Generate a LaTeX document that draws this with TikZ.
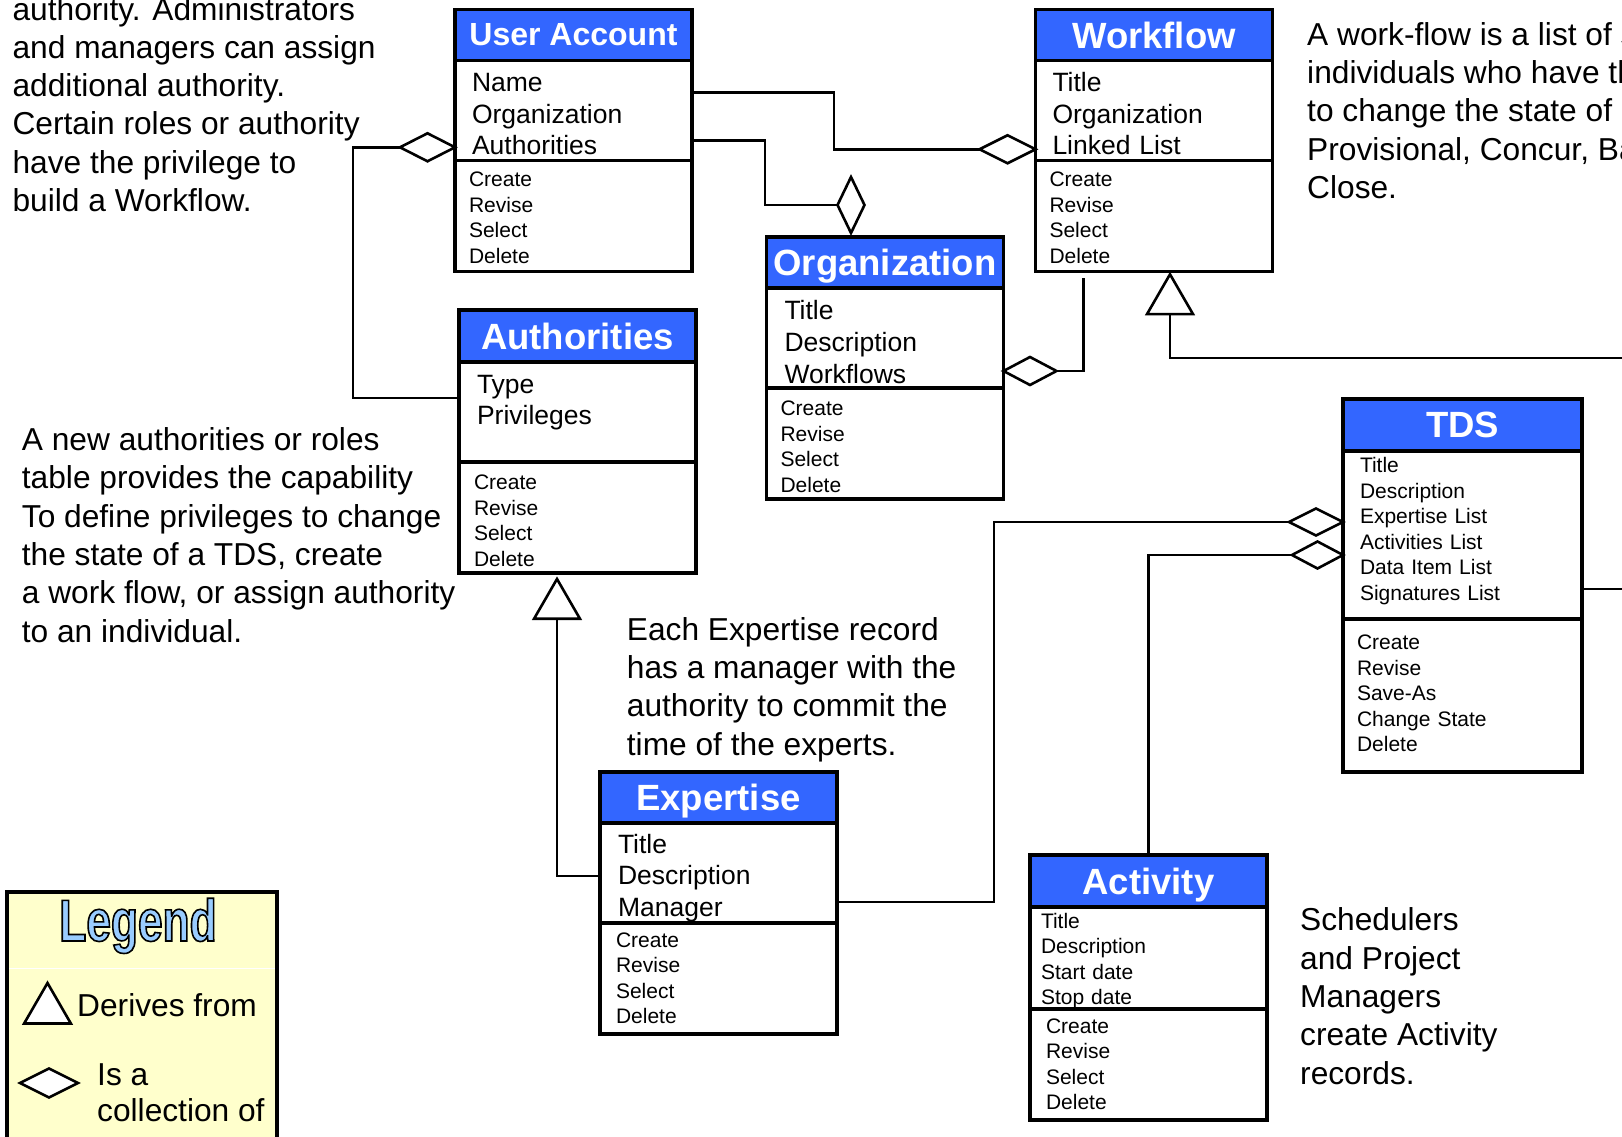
\documentclass[tikz,border=0pt]{standalone}
\usepackage{fontspec}
\setmainfont{Liberation Sans}
\newfontfamily\legendfont[FakeStretch=0.75]{Liberation Sans}
\usepackage{xcolor}
\usetikzlibrary{positioning, shapes.geometric}

\definecolor{umlblue}{HTML}{3366FF}
\definecolor{legendyellow}{HTML}{FFFFCC}
\definecolor{legendblue}{HTML}{99CCFF}

\newcommand{\clshead}{\fontsize{36.5}{40}\selectfont\bfseries}
\newcommand{\clsattr}{\fontsize{26.5}{31.7}\selectfont}
\newcommand{\clsops}{\fontsize{21}{25.5}\selectfont}
\newcommand{\notetext}{\fontsize{31.7}{38.3}\selectfont}
\newcommand{\outlined}[1]{\special{pdf:literal direct 0 0 0 RG 1.6 w 2 Tr}#1\special{pdf:literal direct 0 Tr}}

\begin{document}
\begin{tikzpicture}[
        x=1pt, y=-1pt,
        head/.style={draw, line width=3.3pt, fill=umlblue, text=white, font=\clshead, text depth=0pt, minimum width=237pt, minimum height=51pt, inner sep=0pt, outer sep=0pt},
        attrs/.style={draw, line width=3.3pt, fill=white, font=\clsattr, align=left, text width=203pt, inner xsep=17pt, inner ysep=0pt, minimum height=100pt, outer sep=0pt},
        ops/.style={attrs, font=\clsops, text width=209pt, inner xsep=14pt, minimum height=111pt},
        lift/.style={execute at begin node={\rule{0pt}{#1}}},
        sink/.style={execute at end node={\rule[-#1]{0pt}{#1}}},
        agg/.style={draw, fill=white, line width=2.6pt, diamond, minimum width=55pt, minimum height=28pt, inner sep=0pt, outer sep=0pt},
        derive/.style={draw, fill=white, line width=2.6pt, regular polygon, regular polygon sides=3, minimum size=53pt, inner sep=0pt, outer sep=0pt},
        conn/.style={draw, line width=2.6pt},
        note/.style={align=left, font=\notetext, inner sep=0pt, anchor=base west}
    ]
    \useasboundingbox (0,0) rectangle (1622,1137);

    % classes
    \node[head, anchor=north west, font=\fontsize{32}{36}\selectfont\bfseries] (ua) at (455,9.3) {User Account};
    \node[attrs, lift=26pt, below=0pt of ua] (ua-a) {Name\\Organization\\Authorities};
    \node[ops, lift=19pt, below=0pt of ua-a] (ua-o) {Create\\Revise\\Select\\Delete};

    \node[head, anchor=north west] (wf) at (1035.5,9.3) {Workflow};
    \node[attrs, lift=26pt, below=0pt of wf] (wf-a) {Title\\Organization\\Linked List};
    \node[ops, lift=19pt, below=0pt of wf-a] (wf-o) {Create\\Revise\\Select\\Delete};

    \node[head, anchor=north west] (org) at (766.5,237) {Organization};
    \node[attrs, lift=27pt, below=0pt of org, inner xsep=18pt, text width=201pt] (org-a) {Title\\Description\\Workflows};
    \node[ops, lift=21pt, below=0pt of org-a] (org-o) {Create\\Revise\\Select\\Delete};

    \node[head, anchor=north west, minimum height=52pt] (au) at (459,310) {Authorities};
    \node[attrs, lift=25.5pt, below=0pt of au, inner xsep=18pt, text width=201pt] (au-a) {Type\\Privileges\\\mbox{}};
    \node[ops, lift=21pt, below=0pt of au-a, inner xsep=15pt, text width=207pt] (au-o) {Create\\Revise\\Select\\Delete};

    \node[head, anchor=north west, minimum width=239pt, minimum height=52pt] (tds) at (1343,399) {TDS};
    \node[attrs, sink=12.5pt, below=0pt of tds, font=\clsops, text width=205pt, minimum height=168pt] (tds-a) {Title\\Description\\Expertise List\\Activities List\\Data Item List\\Signatures List};
    \node[ops, sink=4pt, below=0pt of tds-a, text width=211pt, minimum height=153pt] (tds-o) {Create\\Revise\\Save-As\\Change State\\Delete};

    \node[head, anchor=north west] (ex) at (600,772) {Expertise};
    \node[attrs, lift=29pt, below=0pt of ex, inner xsep=18pt, text width=201pt] (ex-a) {Title\\Description\\Manager};
    \node[ops, below=0pt of ex-a, inner xsep=16pt, text width=205pt] (ex-o) {Create\\Revise\\Select\\Delete};

    \node[head, anchor=north west, minimum height=52pt] (act) at (1030,855) {Activity};
    \node[attrs, lift=21pt, below=0pt of act, font=\clsops, inner xsep=11pt, text width=215pt] (act-a) {Title\\Description\\Start date\\Stop date};
    \node[ops, below=0pt of act-a, inner xsep=16pt, text width=205pt] (act-o) {Create\\Revise\\Select\\Delete};

    % collection diamonds and derive triangles
    \node[agg, anchor=east] (d1) at ([yshift=-37pt]ua-a.west) {};
    \node[agg, anchor=east, minimum width=56pt] (d2) at ([yshift=-39pt]wf-a.west) {};
    \node[agg, anchor=south, minimum width=27pt, minimum height=56pt] (d3) at ([xshift=-34pt, yshift=4pt]org.north) {};
    \node[agg, anchor=west, minimum width=53pt] (d4) at ([yshift=-33pt]org-a.east) {};
    \node[agg, anchor=east, minimum width=54pt, minimum height=27pt] (d5) at ([yshift=13pt]tds-a.west) {};
    \node[agg, anchor=east, minimum width=51pt, minimum height=27pt] (d6) at ([yshift=-20pt]tds-a.west) {};
    \node[derive, anchor=corner 1] (t1) at ([xshift=16pt, yshift=-3pt]wf-o.south) {};
    \node[derive, anchor=corner 1] (t2) at ([xshift=-20.5pt, yshift=-6pt]au-o.south) {};

    \coordinate (wf-out) at (1640,358);
    \coordinate (tds-out) at (1640,589);

    % connectors
    \draw[conn] (d1.west) -- ++(-47,0) |- ([yshift=14pt]au-a.west);
    \draw[conn] ([yshift=18pt]ua-a.east) -- ++(142,0) |- (d2.west);
    \draw[conn] ([yshift=-30pt]ua-a.east) -- ++(73,0) |- (d3.west);
    \draw[conn] ([xshift=48pt, yshift=-7pt]wf-o.south west) |- (d4.east);
    \draw[conn] (t1.south) |- (wf-out);
    \draw[conn] ([yshift=-54pt]tds-a.east) -- (tds-out);
    \draw[conn] ([yshift=-29pt]ex-a.east) -- ++(157,0) |- (d5.west);
    \draw[conn] (act.north) |- (d6.west);
    \draw[conn] ([yshift=-3pt]ex-a.west) -| (t2.south);

    % notes (anchored at the baseline of the last line)
    \node[note] (n-auth) at (12.4,211.5) {authority. Administrators\\and managers can assign\\additional authority.\\Certain roles or authority\\have the privilege to\\build a Workflow.};
    \node[note] (n-wf) at (1307,198.5) {A work-flow is a list of s\\individuals who have th\\to change the state of\\Provisional, Concur, Ba\\Close.};
    \node[note] (n-roles) at (21.7,642) {A new authorities or roles\\table provides the capability\\To define privileges to change\\the state of a TDS, create\\a work flow, or assign authority\\to an individual.};
    \node[note] (n-exp) at (626.7,755) {Each Expertise record\\has a manager with the\\authority to commit the\\time of the experts.};
    \node[note] (n-act) at (1300,1084) {Schedulers\\and Project\\Managers\\create Activity\\records.};

    % legend
    \node[draw, line width=3.3pt, fill=legendyellow, anchor=north west, minimum width=270pt, minimum height=280pt, outer sep=0pt] (lg) at (7,892) {};
    \draw[white, line width=1pt, shorten <=2pt, shorten >=2pt] ([yshift=-76pt]lg.north west) -- ([yshift=-76pt]lg.north east);
    \node[anchor=base, inner sep=0pt, text=legendblue, font=\legendfont\fontsize{59}{60}\selectfont\bfseries] (lg-title) at (138,941) {\outlined{Legend}};
    \node[derive, anchor=corner 1, minimum size=54pt] (lg-tri) at (47.5,983) {};
    \node[note] (lg-der) at (77,1016) {Derives from};
    \node[agg, minimum width=58pt, minimum height=29pt] (lg-dia) at (49,1083) {};
    \node[note, font=\fontsize{31.7}{36}\selectfont] (lg-col) at (97,1121) {Is a\\collection of};
\end{tikzpicture}
\end{document}
